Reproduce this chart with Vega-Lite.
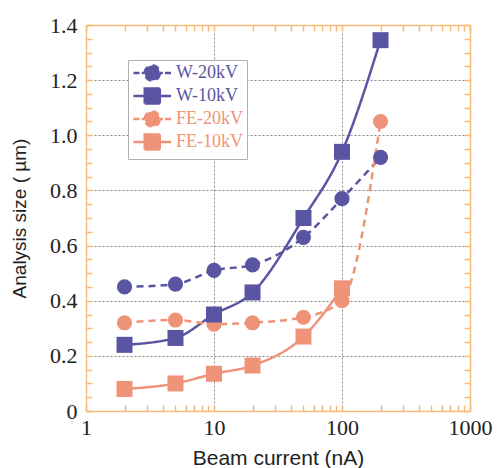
{
  "$schema": "https://vega.github.io/schema/vega-lite/v6.json",
  "width": 384,
  "height": 386,
  "autosize": {"type": "none"},
  "padding": {"left": 86, "top": 25, "right": 27, "bottom": 57},
  "background": "white",
  "config": {
    "view": {"stroke": null},
    "axis": {
      "domainColor": "#f6bb78",
      "domainWidth": 1.5,
      "tickColor": "#f6bb78",
      "tickWidth": 1.5,
      "tickSize": -6,
      "labelFont": "Liberation Serif",
      "labelFontSize": 22,
      "labelColor": "#222",
      "titleFont": "Liberation Sans",
      "titleFontSize": 21,
      "titleFontWeight": "normal",
      "titleColor": "#222",
      "gridColor": "#888",
      "gridDash": [2, 2],
      "gridWidth": 1,
      "labelOverlap": false,
      "labelBound": false,
      "labelFlush": false
    },
    "legend": {
      "orient": "none",
      "legendX": 42,
      "legendY": 35,
      "title": null,
      "fillColor": "white",
      "strokeColor": "#b0b0b0",
      "padding": 4,
      "symbolSize": 225,
      "labelFont": "Liberation Serif",
      "labelFontSize": 18,
      "labelOffset": 26,
      "rowPadding": -3
    }
  },
  "data": {
    "values": [
      {"series": "W-20kV", "kv": 20, "x": 2, "y": 0.45},
      {"series": "W-20kV", "kv": 20, "x": 5, "y": 0.46},
      {"series": "W-20kV", "kv": 20, "x": 10, "y": 0.51},
      {"series": "W-20kV", "kv": 20, "x": 20, "y": 0.53},
      {"series": "W-20kV", "kv": 20, "x": 50, "y": 0.63},
      {"series": "W-20kV", "kv": 20, "x": 100, "y": 0.77},
      {"series": "W-20kV", "kv": 20, "x": 200, "y": 0.92},
      {"series": "W-10kV", "kv": 10, "x": 2, "y": 0.24},
      {"series": "W-10kV", "kv": 10, "x": 5, "y": 0.265},
      {"series": "W-10kV", "kv": 10, "x": 10, "y": 0.35},
      {"series": "W-10kV", "kv": 10, "x": 20, "y": 0.43},
      {"series": "W-10kV", "kv": 10, "x": 50, "y": 0.70},
      {"series": "W-10kV", "kv": 10, "x": 100, "y": 0.94},
      {"series": "W-10kV", "kv": 10, "x": 200, "y": 1.345},
      {"series": "FE-20kV", "kv": 20, "x": 2, "y": 0.32},
      {"series": "FE-20kV", "kv": 20, "x": 5, "y": 0.33},
      {"series": "FE-20kV", "kv": 20, "x": 10, "y": 0.315},
      {"series": "FE-20kV", "kv": 20, "x": 20, "y": 0.32},
      {"series": "FE-20kV", "kv": 20, "x": 50, "y": 0.34},
      {"series": "FE-20kV", "kv": 20, "x": 100, "y": 0.40},
      {"series": "FE-20kV", "kv": 20, "x": 200, "y": 1.05},
      {"series": "FE-10kV", "kv": 10, "x": 2, "y": 0.08},
      {"series": "FE-10kV", "kv": 10, "x": 5, "y": 0.10},
      {"series": "FE-10kV", "kv": 10, "x": 10, "y": 0.135},
      {"series": "FE-10kV", "kv": 10, "x": 20, "y": 0.165},
      {"series": "FE-10kV", "kv": 10, "x": 50, "y": 0.27},
      {"series": "FE-10kV", "kv": 10, "x": 100, "y": 0.445}
    ]
  },
  "resolve": {"axis": {"x": "independent", "y": "independent"}},
  "layer": [
    {
      "mark": {"type": "line", "interpolate": "monotone", "strokeWidth": 2.5},
      "encoding": {
        "x": {
          "field": "x", "type": "quantitative",
          "scale": {"type": "log", "domain": [1, 1000], "nice": false},
          "axis": {
            "orient": "bottom",
            "title": "Beam current (nA)",
            "values": [1,2,3,4,5,6,7,8,9,10,20,30,40,50,60,70,80,90,100,200,300,400,500,600,700,800,900,1000],
            "format": "d",
            "labelExpr": "indexof([1,10,100,1000], datum.value) >= 0 ? datum.label : ''",
            "labelPadding": 12,
            "titlePadding": 9,
            "grid": true,
            "gridOpacity": {"condition": {"test": "indexof([10,100], datum.value) >= 0", "value": 1}, "value": 0}
          }
        },
        "y": {
          "field": "y", "type": "quantitative",
          "scale": {"domain": [0, 1.4], "nice": false},
          "axis": {
            "orient": "left",
            "title": "Analysis size ( µm)",
            "titleFontSize": 19,
            "values": [0,0.05,0.1,0.15,0.2,0.25,0.3,0.35,0.4,0.45,0.5,0.55,0.6,0.65,0.7,0.75,0.8,0.85,0.9,0.95,1.0,1.05,1.1,1.15,1.2,1.25,1.3,1.35,1.4],
            "labelExpr": "abs(datum.value*5 - round(datum.value*5)) < 0.001 ? (datum.value == 0 ? '0' : format(datum.value, '.1f')) : ''",
            "labelPadding": 15,
            "titlePadding": 20,
            "grid": true,
            "gridOpacity": {"condition": {"test": "abs(datum.value*5 - round(datum.value*5)) < 0.001 && datum.value > 0.01 && datum.value < 1.39", "value": 1}, "value": 0}
          }
        },
        "color": {
          "field": "series", "type": "nominal",
          "scale": {"domain": ["W-20kV", "W-10kV", "FE-20kV", "FE-10kV"], "range": ["#5a55a3", "#5a55a3", "#ef9378", "#ef9378"]},
          "legend": {
            "symbolType": "M-1,0L4,0M0.5,-1L2.5,-1L2.5,1L0.5,1Z",
            "encode": {
              "symbols": {
                "update": {
                  "shape": {"signal": "indexof(['W-20kV','FE-20kV'], datum.value) >= 0 ? 'M-1,0L-0.2,0M0.1,0L0.5,0M0.5,0A1,1,0,1,1,2.5,0A1,1,0,1,1,0.5,0ZM2.5,0L2.9,0M3.2,0L4,0' : 'M-1,0L4,0M0.5,-1L2.5,-1L2.5,1L0.5,1Z'"},
                  "stroke": {"signal": "datum.value[0] == 'W' ? '#5a55a3' : '#ef9378'"},
                  "fill": {"signal": "datum.value[0] == 'W' ? '#5a55a3' : '#ef9378'"},
                  "strokeWidth": {"value": 2.5},
                  "strokeDash": {"value": [1, 0]},
                  "strokeOpacity": {"value": 1},
                  "fillOpacity": {"value": 1},
                  "opacity": {"value": 1}
                }
              },
              "labels": {
                "update": {
                  "fill": {"signal": "datum.value[0] == 'W' ? '#5a55a3' : '#ef9378'"}
                }
              }
            }
          }
        },
        "strokeDash": {
          "field": "series", "type": "nominal",
          "scale": {"domain": ["W-20kV", "W-10kV", "FE-20kV", "FE-10kV"], "range": [[7, 5], [1, 0], [7, 5], [1, 0]]},
          "legend": null
        }
      }
    },
    {
      "transform": [{"filter": "datum.kv == 20"}],
      "mark": {"type": "point", "shape": "circle", "filled": true, "opacity": 1, "size": 230},
      "encoding": {
        "x": {
          "field": "x", "type": "quantitative",
          "scale": {"type": "log", "domain": [1, 1000], "nice": false},
          "axis": {
            "orient": "top",
            "title": null,
            "labels": false,
            "values": [1,2,3,4,5,6,7,8,9,10,20,30,40,50,60,70,80,90,100,200,300,400,500,600,700,800,900,1000],
            "grid": false
          }
        },
        "y": {
          "field": "y", "type": "quantitative",
          "scale": {"domain": [0, 1.4], "nice": false},
          "axis": {
            "orient": "right",
            "title": null,
            "labels": false,
            "values": [0,0.05,0.1,0.15,0.2,0.25,0.3,0.35,0.4,0.45,0.5,0.55,0.6,0.65,0.7,0.75,0.8,0.85,0.9,0.95,1.0,1.05,1.1,1.15,1.2,1.25,1.3,1.35,1.4],
            "grid": false
          }
        },
        "color": {
          "field": "series", "type": "nominal",
          "scale": {"domain": ["W-20kV", "W-10kV", "FE-20kV", "FE-10kV"], "range": ["#5a55a3", "#5a55a3", "#ef9378", "#ef9378"]}
        }
      }
    },
    {
      "transform": [{"filter": "datum.kv == 10"}],
      "mark": {"type": "point", "shape": "square", "filled": true, "opacity": 1, "size": 256},
      "encoding": {
        "x": {"field": "x", "type": "quantitative", "scale": {"type": "log", "domain": [1, 1000], "nice": false}, "axis": null},
        "y": {"field": "y", "type": "quantitative", "scale": {"domain": [0, 1.4], "nice": false}, "axis": null},
        "color": {
          "field": "series", "type": "nominal",
          "scale": {"domain": ["W-20kV", "W-10kV", "FE-20kV", "FE-10kV"], "range": ["#5a55a3", "#5a55a3", "#ef9378", "#ef9378"]}
        }
      }
    }
  ]
}
